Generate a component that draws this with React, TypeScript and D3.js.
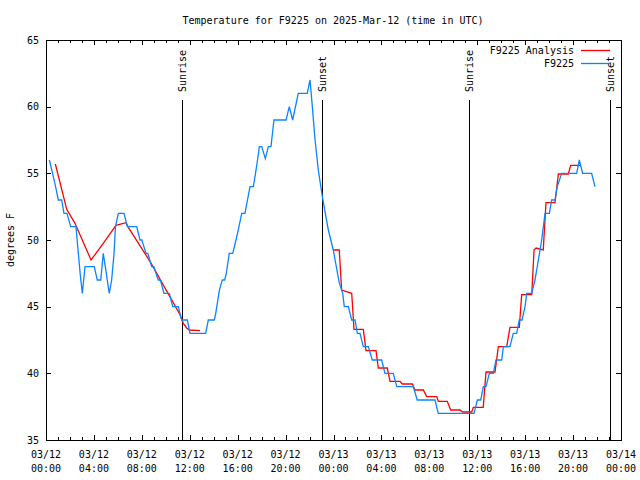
import React from "react";
import * as d3 from "d3";

// hours since 2025-03-12 00:00 UTC
const obsHours = [0.28,0.55,0.8,1.03,1.31,1.5,1.75,2.06,2.5,2.7,2.85,3.03,3.26,4.03,4.28,4.57,4.78,4.95,5.28,5.48,5.68,5.8,6.04,6.51,6.79,7.57,7.85,8.0,8.35,8.5,8.82,9.0,9.37,9.55,9.85,10.29,10.58,11.04,11.33,11.8,12.02,13.33,13.55,14.05,14.17,14.3,14.48,14.63,14.72,14.92,15.05,15.3,15.59,15.86,16.11,16.34,16.61,16.82,17.03,17.31,17.49,17.66,17.81,18.01,18.31,18.56,18.78,19.03,20.04,20.31,20.59,21.06,21.81,22.04,22.21,22.46,22.73,23.07,23.57,23.98,24.48,24.77,24.9,25.24,25.52,25.8,25.99,26.21,26.49,26.91,27.24,28.02,28.3,28.99,29.28,30.66,30.99,32.47,32.75,35.73,36.01,36.29,36.51,36.73,37.01,37.34,37.57,38.04,38.18,38.73,39.01,39.29,39.51,39.74,39.99,40.13,40.55,40.82,41.1,41.38,41.66,42.02,42.21,42.49,42.68,43.05,44.3,44.52,44.8,45.55,45.83];
const obsTemps = [56,55,54,53,53,52,52,51,51,49,47.5,46,48,48,47,47,49,48,46,47,49,51,52,52,51,51,50,50,49,49,48,48,47,47,46,46,45,45,44,44,43,43,44,44,44.5,45.25,46.25,46.75,47,47,47.5,49,49,50,51,52,52,53,54,54,55,56,57,57,56.1,57,57,59,59,60,59,61,61,62,60.25,57.5,55.25,53.25,50.75,49.25,46.8,46,45,45,44,44,43,43,42,42,41,41,40,40,39,39,38,38,37,37,38,38,39,39,40,40,41,41,42,42,43,43,44,44,45,46,46,47,48.5,50,52,52,53,53,54,55,55,56,55,55,54];

const anaHours = [0.78,1.73,2.42,3.76,4.78,5.84,6.68,6.87,8.68,11.19,11.46,11.75,11.96,12.86,NaN,23.98,24.48,24.68,25.52,25.71,26.49,26.71,27.55,27.74,28.49,28.72,29.55,29.74,30.58,30.8,31.5,31.78,32.62,32.75,33.5,33.78,34.56,34.79,35.54,35.67,36.5,36.73,37.48,37.76,38.46,38.73,39.51,39.71,40.55,40.74,40.91,41.51,41.74,42.49,42.77,43.6,43.8,44.58];
const anaTemps = [55.7,52.3,51.25,48.5,49.75,51.1,51.3,50.95,48.4,44.4,43.75,43.4,43.25,43.2,NaN,49.25,49.25,46.25,46.0,43.3,43.3,41.7,41.7,40.4,40.4,39.4,39.4,39.2,39.2,38.75,38.75,38.25,38.25,37.9,37.9,37.25,37.25,37.1,37.1,37.45,37.45,40.1,40.1,42.0,42.0,43.45,43.45,45.9,45.9,49.25,49.4,49.25,52.8,52.8,54.95,54.95,55.6,55.6];

const sunHours = [11.39, 23.04, 35.31, 47.04];
const sunLabels = ["Sunrise", "Sunset", "Sunrise", "Sunset"];

const yTicks = [35, 40, 45, 50, 55, 60, 65];
const titleText = "Temperature for F9225 on 2025-Mar-12 (time in UTC)";
const seriesNames = ["F9225 Analysis", "F9225"];
const seriesColors = ["#ff0000", "#0a85ff"];

const T0 = Date.UTC(2025, 2, 12);
const toDate = (h: number) => new Date(T0 + h * 3600 * 1000);

export default function App() {
  const W = 640, H = 480;
  const left = 46, right = 621, top = 40, bottom = 440;
  const x = d3.scaleUtc().domain([toDate(0), toDate(48)]).range([left, right]);
  const y = d3.scaleLinear().domain([35, 65]).range([bottom, top]);
  const font = "'DejaVu Sans Mono', monospace";

  const line = d3
    .line<[number, number]>()
    .defined((d) => !isNaN(d[0]) && !isNaN(d[1]))
    .x((d) => x(toDate(d[0])))
    .y((d) => y(d[1]));

  const obs = obsHours.map((h, i) => [h, obsTemps[i]] as [number, number]);
  const ana = anaHours.map((h, i) => [h, anaTemps[i]] as [number, number]);

  const minorTicks = d3.utcHour.every(1)!.range(toDate(0), toDate(48.01));
  const majorTicks = d3.utcHour.every(4)!.range(toDate(0), toDate(48.01));
  const fmtDate = d3.utcFormat("%m/%d");
  const fmtTime = d3.utcFormat("%H:%M");

  return (
    <svg width={W} height={H} style={{ position: "absolute", left: 0, top: 0, background: "#fff" }} fontFamily={font} fontSize={10}>
      <rect x={0} y={0} width={W} height={H} fill="#fff" />
      {/* minor ticks */}
      {minorTicks.map((t, i) => (
        <g key={"m" + i} stroke="#000" strokeWidth={1}>
          <line x1={Math.round(x(t)) + 0.5} x2={Math.round(x(t)) + 0.5} y1={bottom} y2={bottom - 3} />
          <line x1={Math.round(x(t)) + 0.5} x2={Math.round(x(t)) + 0.5} y1={top} y2={top + 3} />
        </g>
      ))}
      {majorTicks.map((t, i) => (
        <g key={"M" + i}>
          <line x1={Math.round(x(t)) + 0.5} x2={Math.round(x(t)) + 0.5} y1={bottom} y2={bottom - 5} stroke="#000" />
          <line x1={Math.round(x(t)) + 0.5} x2={Math.round(x(t)) + 0.5} y1={top} y2={top + 5} stroke="#000" />
          <text x={x(t)} y={458} textAnchor="middle">{fmtDate(t)}</text>
          <text x={x(t)} y={472} textAnchor="middle">{fmtTime(t)}</text>
        </g>
      ))}
      {yTicks.map((v) => (
        <g key={"y" + v}>
          <line x1={left} x2={left + 5} y1={Math.round(y(v)) + 0.5} y2={Math.round(y(v)) + 0.5} stroke="#000" />
          <line x1={right} x2={right - 5} y1={Math.round(y(v)) + 0.5} y2={Math.round(y(v)) + 0.5} stroke="#000" />
          <text x={39} y={y(v)} dy="0.35em" textAnchor="end">{v}</text>
        </g>
      ))}
      {/* sun lines */}
      {sunHours.map((h, i) => {
        const sx = Math.round(x(toDate(h))) + 0.5;
        return (
          <g key={"s" + i}>
            <line x1={sx} x2={sx} y1={100} y2={bottom} stroke="#000" strokeWidth={1} />
            <text transform={`translate(${sx + 3.5},92) rotate(-90)`} textAnchor="start">{sunLabels[i]}</text>
          </g>
        );
      })}
      {/* series */}
      <path d={line(ana) || ""} fill="none" stroke={seriesColors[0]} strokeWidth={1.3} />
      <path d={line(obs) || ""} fill="none" stroke={seriesColors[1]} strokeWidth={1.3} />
      {/* border */}
      <rect x={left + 0.5} y={top + 0.5} width={right - left} height={bottom - top} fill="none" stroke="#000" strokeWidth={1} />
      {/* legend */}
      {seriesNames.map((n, i) => (
        <g key={"l" + i}>
          <text x={574} y={50 + i * 13} dy="0.35em" textAnchor="end">{n}</text>
          <line x1={581} x2={610} y1={50.5 + i * 13} y2={50.5 + i * 13} stroke={seriesColors[i]} strokeWidth={1.3} />
        </g>
      ))}
      <text x={333} y={20} dy="0.35em" textAnchor="middle">{titleText}</text>
      <text transform={`translate(10,240) rotate(-90)`} textAnchor="middle" dy="0.35em">degrees F</text>
    </svg>
  );
}
